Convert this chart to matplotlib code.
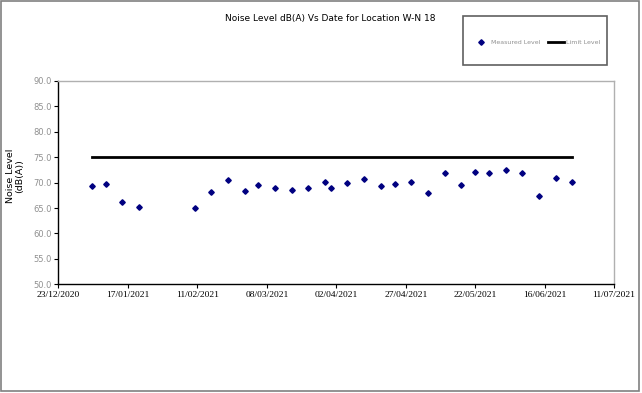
import datetime as dt
import matplotlib
matplotlib.use("Agg")
import matplotlib.pyplot as plt
import matplotlib.dates as mdates
from matplotlib.patches import Rectangle

# measurement dates and levels
dates = ["2021-01-04", "2021-01-09", "2021-01-15", "2021-01-21", "2021-02-10",
         "2021-02-16", "2021-02-22", "2021-02-28", "2021-03-05", "2021-03-11",
         "2021-03-17", "2021-03-23", "2021-03-29", "2021-03-31", "2021-04-06",
         "2021-04-12", "2021-04-18", "2021-04-23", "2021-04-29", "2021-05-05",
         "2021-05-11", "2021-05-17", "2021-05-22", "2021-05-27", "2021-06-02",
         "2021-06-08", "2021-06-14", "2021-06-20", "2021-06-26"]
measured = [69.3, 69.7, 66.2, 65.2, 65.1, 68.2, 70.6, 68.4, 69.5, 68.9,
            68.6, 69.0, 70.1, 69.0, 69.9, 70.7, 69.4, 69.7, 70.1, 67.9,
            71.9, 69.5, 72.0, 71.9, 72.5, 71.9, 67.4, 70.9, 70.1]
limit = 75.0
tick_dates = ["2020-12-23", "2021-01-17", "2021-02-11", "2021-03-08", "2021-04-02",
              "2021-04-27", "2021-05-22", "2021-06-16", "2021-07-11"]

x = [dt.datetime.strptime(d, "%Y-%m-%d") for d in dates]
xt = [dt.datetime.strptime(d, "%Y-%m-%d") for d in tick_dates]

fig = plt.figure(figsize=(6.42, 3.93), dpi=100)
# outer chart border
fig.patches.append(Rectangle((0.001, 0.004), 0.995, 0.994, transform=fig.transFigure,
                             fill=False, edgecolor="#808080", linewidth=1.2))
# legend box
fig.patches.append(Rectangle((0.7212, 0.8346), 0.2243, 0.1247, transform=fig.transFigure,
                             fill=False, edgecolor="#606060", linewidth=1.2))

ax = fig.add_axes([0.0911, 0.2766, 0.8653, 0.5173])
ax.plot(x, measured, linestyle="none", marker="D", markersize=2.8, color="#000080",
        label="Measured Level")
ax.plot([x[0], x[-1]], [limit, limit], color="black", linewidth=2.0, label="Limit Level")

ax.set_ylim(50, 90)
ax.set_yticks(range(50, 91, 5))
ax.set_yticklabels([f"{v:.1f}" for v in range(50, 91, 5)], fontsize=6, color="#909090")
ax.set_xlim(xt[0], xt[-1])
ax.set_xticks(xt)
ax.xaxis.set_major_formatter(mdates.DateFormatter("%d/%m/%Y"))
for lab in ax.get_xticklabels():
    lab.set_fontsize(6.8)
    lab.set_family("Liberation Serif")
ax.tick_params(axis="both", length=3, width=0.8, pad=1.5)
ax.tick_params(axis="y", length=3, colors="black", labelcolor="#909090")

for s in ["top", "right"]:
    ax.spines[s].set_color("#b0b0b0")
    ax.spines[s].set_linewidth(1.0)
for s in ["left", "bottom"]:
    ax.spines[s].set_color("black")
    ax.spines[s].set_linewidth(1.0)

fig.text(0.0235, 0.552, "Noise Level\n(dB(A))", rotation=90, ha="center", va="center",
         fontsize=6.8, linespacing=1.1)
fig.text(0.514, 0.952, "Noise Level dB(A) Vs Date for Location W-N 18", ha="center",
         va="center", fontsize=6.5)

leg = fig.legend(loc="center", bbox_to_anchor=(0.8365, 0.893), ncol=2, fontsize=4.5,
                 frameon=False, handlelength=2.5, columnspacing=1.2, handletextpad=0.4,
                 borderaxespad=0)
for t in leg.get_texts():
    t.set_color("#909090")

fig.savefig("out.png", dpi=100)
